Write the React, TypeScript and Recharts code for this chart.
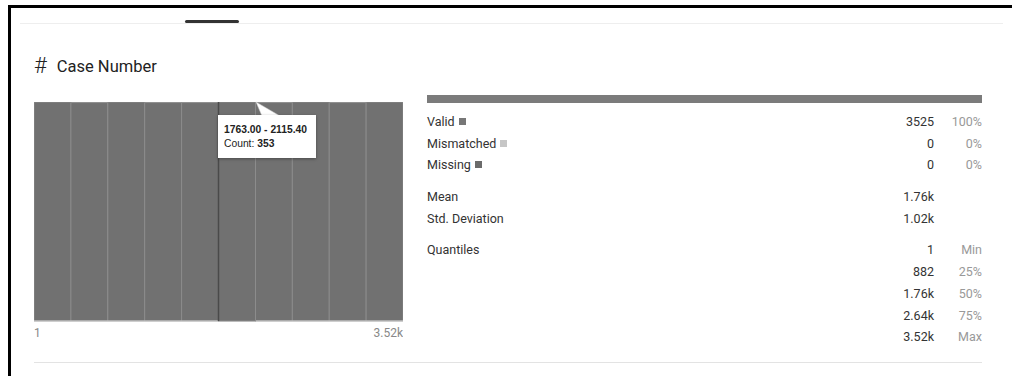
import React from "react";
import { BarChart, Bar, XAxis, YAxis, Tooltip } from "recharts";

// histogram bins for "Case Number"
const binStarts = [1, 353.4, 705.8, 1058.2, 1410.6, 1763.0, 2115.4, 2467.8, 2820.2, 3172.6];
const binEnds = [353.4, 705.8, 1058.2, 1410.6, 1763.0, 2115.4, 2467.8, 2820.2, 3172.6, 3525];
const binCounts = [353, 352, 353, 352, 352, 353, 352, 353, 352, 353];
const rangeTickLabels = ["1", "3.52k"];

// validity summary
const validCount = 3525;
const mismatchedCount = 0;
const missingCount = 0;

const statusRows = [
  { label: "Valid", value: "3525", pct: "100%", swatch: "#777" },
  { label: "Mismatched", value: "0", pct: "0%", swatch: "#c6c6c6" },
  { label: "Missing", value: "0", pct: "0%", swatch: "#6b6b6b" },
];
const momentRows = [
  { label: "Mean", value: "1.76k" },
  { label: "Std. Deviation", value: "1.02k" },
];
const quantileValues = ["1", "882", "1.76k", "2.64k", "3.52k"];
const quantileLabels = ["Min", "25%", "50%", "75%", "Max"];

const histData = binCounts.map((c, i) => ({
  bin: i,
  from: binStarts[i],
  to: binEnds[i],
  count: c,
}));

const statusData = [{ name: "status", valid: validCount, mismatched: mismatchedCount, missing: missingCount }];

const font = "Roboto, 'Noto Sans', sans-serif";
const HIST_W = 369;
const HALF_BAND = HIST_W / binCounts.length / 2;

function BinTooltip({ active, payload }: any) {
  if (!active || !payload || !payload.length) return null;
  const d = payload[0].payload;
  return (
    <div style={{ position: "relative", width: 98, height: 43 }}>
      <svg width={30} height={16} style={{ position: "absolute", left: 36, top: -13, overflow: "visible" }}>
        <polygon points="2,0 8,14 26,14" fill="#fff" stroke="#ccc" strokeWidth={0.5} />
      </svg>
      <div
        style={{
          position: "absolute",
          inset: 0,
          background: "#fff",
          boxShadow: "0 1px 3px rgba(0,0,0,0.35)",
          fontFamily: "'Liberation Sans', Arial, sans-serif",
          fontSize: 10.3,
          color: "#222",
          padding: "8px 6px",
          boxSizing: "border-box",
          lineHeight: "14px",
          whiteSpace: "nowrap",
        }}
      >
        <div style={{ fontWeight: 700 }}>
          {d.from.toFixed(2)} - {d.to.toFixed(2)}
        </div>
        <div>
          Count: <b>{d.count}</b>
        </div>
      </div>
    </div>
  );
}

// only the first and last bins carry a label, pinned to the outer edges
function EdgeTick({ x, y, index }: any) {
  const last = binCounts.length - 1;
  if (index !== 0 && index !== last) return null;
  const first = index === 0;
  return (
    <text
      x={first ? x - HALF_BAND : x + HALF_BAND}
      y={y}
      dy={12}
      textAnchor={first ? "start" : "end"}
      fill="#888"
      fontSize={12}
      fontFamily={font}
    >
      {rangeTickLabels[first ? 0 : 1]}
    </text>
  );
}

function HoverBar(props: any) {
  const { x, y, width, height } = props;
  return (
    <g>
      <rect x={x} y={y} width={width} height={height} fill="#717171" stroke="#8c8c8c" strokeWidth={1} />
      <line x1={x} y1={y} x2={x} y2={y + height} stroke="#4a4a4a" strokeWidth={1.5} />
    </g>
  );
}

const rowStyle: React.CSSProperties = {
  position: "absolute",
  left: 427,
  width: 555,
  height: 20,
  display: "flex",
  alignItems: "center",
  fontFamily: font,
  fontSize: 12.5,
  color: "#333",
};

function StatRow({ top, label, swatch, value, pct }: any) {
  return (
    <div style={{ ...rowStyle, top: top - 10 }}>
      <span>{label}</span>
      {swatch && (
        <span style={{ display: "inline-block", width: 7, height: 7, background: swatch, marginLeft: 4 }} />
      )}
      <span style={{ position: "absolute", right: 48, textAlign: "right" }}>{value}</span>
      {pct && <span style={{ position: "absolute", right: 0, color: "#999" }}>{pct}</span>}
    </div>
  );
}

export default function App() {
  const statusTops = [121, 143, 164];
  const momentTops = [196, 218];
  const quantTops = [249, 271, 293, 315, 336];
  return (
    <div style={{ position: "absolute", left: 0, top: 0, width: 1012, height: 376, background: "#fff", overflow: "hidden" }}>
      {/* frame */}
      <div style={{ position: "absolute", left: 8, top: 5, width: 1004, height: 3, background: "#000" }} />
      <div style={{ position: "absolute", left: 8, top: 5, width: 3, height: 371, background: "#000" }} />
      <div style={{ position: "absolute", left: 20, top: 23, width: 983, height: 1, background: "#eee" }} />
      <div style={{ position: "absolute", left: 185, top: 20, width: 54, height: 3, background: "#333", borderRadius: 2 }} />

      {/* title */}
      <div style={{ position: "absolute", left: 34, top: 52, fontFamily: font, fontSize: 16.5, fontWeight: 400, color: "#222", whiteSpace: "nowrap" }}>
        <span style={{ fontWeight: 300, fontSize: 22, marginRight: 10, position: "relative", top: 1 }}>#</span>
        Case Number
      </div>

      {/* histogram */}
      <div style={{ position: "absolute", left: 34, top: 102 }}>
        <BarChart width={HIST_W} height={250} data={histData} margin={{ top: 0, right: 0, bottom: 0, left: 0 }} barCategoryGap={0}>
          <XAxis
            dataKey="bin"
            interval={0}
            tick={<EdgeTick />}
            tickLine={false}
            tickSize={0}
            tickMargin={4}
            axisLine={{ stroke: "#d8d8d8" }}
            height={31}
          />
          <YAxis hide domain={[0, "dataMax"]} />
          <Tooltip
            content={<BinTooltip />}
            defaultIndex={5}
            active
            cursor={false}
            position={{ x: 184, y: 13 }}
            isAnimationActive={false}
            wrapperStyle={{ outline: "none", zIndex: 5 }}
          />
          <Bar
            dataKey="count"
            fill="#717171"
            stroke="#8c8c8c"
            strokeWidth={1}
            activeBar={<HoverBar />}
            isAnimationActive={false}
          />
        </BarChart>
      </div>

      {/* status bar */}
      <div style={{ position: "absolute", left: 427, top: 95 }}>
        <BarChart width={555} height={8} layout="vertical" data={statusData} margin={{ top: 0, right: 0, bottom: 0, left: 0 }} barCategoryGap={0}>
          <XAxis type="number" hide domain={[0, validCount + mismatchedCount + missingCount]} />
          <YAxis type="category" dataKey="name" hide />
          <Bar dataKey="valid" stackId="s" fill="#7b7b7b" isAnimationActive={false} />
          <Bar dataKey="mismatched" stackId="s" fill="#c6c6c6" isAnimationActive={false} />
          <Bar dataKey="missing" stackId="s" fill="#6b6b6b" isAnimationActive={false} />
        </BarChart>
      </div>

      {statusRows.map((r, i) => (
        <StatRow key={r.label} top={statusTops[i]} label={r.label} swatch={r.swatch} value={r.value} pct={r.pct} />
      ))}
      {momentRows.map((r, i) => (
        <StatRow key={r.label} top={momentTops[i]} label={r.label} value={r.value} />
      ))}
      {quantileValues.map((v, i) => (
        <StatRow key={quantileLabels[i]} top={quantTops[i]} label={i === 0 ? "Quantiles" : ""} value={v} pct={quantileLabels[i]} />
      ))}

      <div style={{ position: "absolute", left: 34, top: 362, width: 948, height: 1, background: "#e3e3e3" }} />
    </div>
  );
}
